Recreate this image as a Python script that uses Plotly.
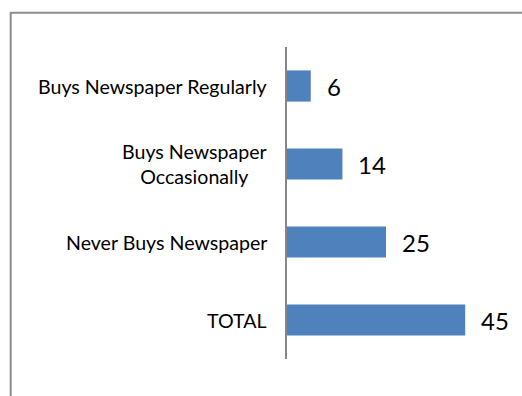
import plotly.graph_objects as go

# Newspaper buying habits
categories = [
    "Buys Newspaper Regularly",
    "Buys Newspaper<br>Occasionally",
    "Never Buys Newspaper",
    "TOTAL",
]
counts = [6, 14, 25, 45]

W, H = 522, 396
# plot-area placement in pixels
PL, PR, PT, PB = 287, 485, 47, 359

fig = go.Figure()
fig.add_trace(go.Bar(
    x=counts,
    y=categories,
    orientation="h",
    width=0.4,
    marker=dict(color="#4F81BD", line=dict(width=0)),
    hoverinfo="x+y",
))

# value labels to the right of each bar
for cat, val in zip(categories, counts):
    fig.add_annotation(
        x=val, y=cat, xref="x", yref="y",
        text=str(val), showarrow=False,
        xanchor="left", yanchor="middle", xshift=14,
        font=dict(family="Lato", size=24, color="#000000"),
    )

# category labels, centred multi-line text, left of the axis line
for cat in categories:
    fig.add_annotation(
        x=0, y=cat, xref="paper", yref="y",
        text=cat, showarrow=False, align="center",
        xanchor="right", yanchor="middle", xshift=-18,
        font=dict(family="Lato", size=19.6, color="#000000"),
    )

# chart-area border (runs off the right and bottom edges)
pw, ph = PR - PL, PB - PT
def px_to_paper_x(px):
    return (px - PL) / pw
def px_to_paper_y(py):
    return (PB - py) / ph

fig.add_shape(
    type="rect", xref="paper", yref="paper",
    x0=px_to_paper_x(10.7), x1=px_to_paper_x(W + 20),
    y0=px_to_paper_y(H + 20), y1=px_to_paper_y(12.7),
    line=dict(color="#8c8c8c", width=2),
    fillcolor="rgba(0,0,0,0)", layer="above",
)

fig.update_layout(
    width=W, height=H,
    margin=dict(l=PL, r=W - PR, t=PT, b=H - PB, pad=0),
    paper_bgcolor="#ffffff", plot_bgcolor="#ffffff",
    showlegend=False,
    bargap=0.6,
    xaxis=dict(range=[0, 50], visible=False, showgrid=False, zeroline=False),
    yaxis=dict(
        type="category",
        categoryorder="array", categoryarray=categories,
        autorange="reversed",
        showline=True, linecolor="#868686", linewidth=2,
        showgrid=False, zeroline=False,
        showticklabels=False, ticks="",
    ),
    font=dict(family="Lato"),
)

fig.write_html("out.html")
